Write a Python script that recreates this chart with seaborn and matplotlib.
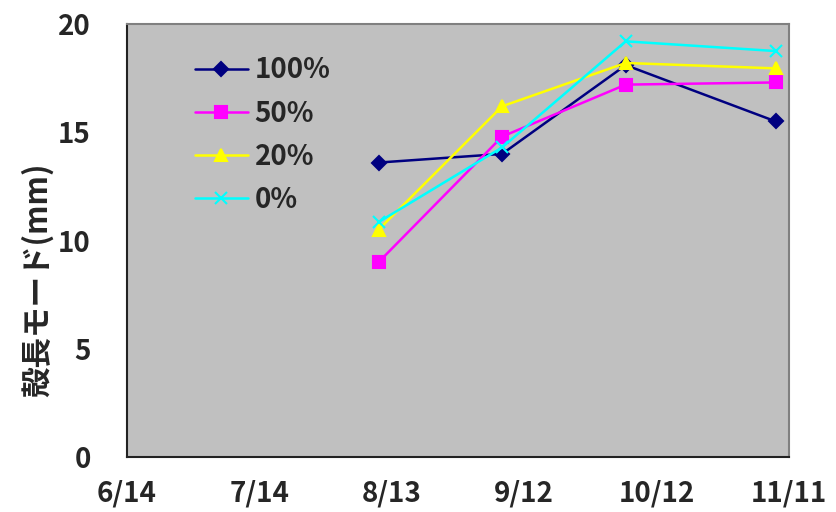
import numpy as np
import pandas as pd
import matplotlib
matplotlib.use("Agg")
import matplotlib.pyplot as plt
import seaborn as sns

# sampling dates and shell-length mode (mm) per treatment
dates = ["2000-08-10", "2000-09-07", "2000-10-05", "2000-11-08"]
series_names = ["100%", "50%", "20%", "0%"]
v100 = [13.6, 14.0, 18.1, 15.5]
v50 = [9.0, 14.8, 17.2, 17.3]
v20 = [10.5, 16.2, 18.2, 17.95]
v0 = [10.85, 14.3, 19.2, 18.75]

tick_dates = ["2000-06-14", "2000-07-14", "2000-08-13", "2000-09-12", "2000-10-12", "2000-11-11"]
tick_labels = ["6/14", "7/14", "8/13", "9/12", "10/12", "11/11"]

colors = ["#000080", "#ff00ff", "#ffff00", "#00ffff"]
markers = ["D", "s", "^", "x"]
msizes = [7, 9, 9, 9]

sns.set_style("white")
plt.rcParams['font.family'] = ['Noto Sans CJK JP', 'DejaVu Sans']
plt.rcParams['font.weight'] = 'bold'

fig = plt.figure(figsize=(8.37, 5.12), dpi=100)
ax = fig.add_axes([127/837, 1-457/512, (789-127)/837, (457-24)/512])
ax.set_facecolor("#c0c0c0")

for name, vals, c, m, ms in zip(series_names, [v100, v50, v20, v0], colors, markers, msizes):
    d = pd.DataFrame({"date": pd.to_datetime(dates), "value": vals})
    sns.lineplot(data=d, x="date", y="value", color=c, marker=m, markersize=ms,
                 markeredgecolor=c, markeredgewidth=1.5, linewidth=1.8,
                 label=name, ax=ax)

ax.set_xlim(pd.Timestamp(tick_dates[0]), pd.Timestamp(tick_dates[-1]))
ax.set_ylim(0, 20)
ax.set_xticks([pd.Timestamp(t) for t in tick_dates])
ax.set_xticklabels(tick_labels, fontsize=20, fontweight='bold')
ax.set_yticks([0, 5, 10, 15, 20])
ax.set_yticklabels(["0", "5", "10", "15", "20"], fontsize=20, fontweight='bold')
ax.tick_params(axis='both', direction='in', length=9, color='#333333')
ax.tick_params(axis='x', pad=16)
ax.tick_params(axis='y', pad=26)
ax.set_xlabel("")
ax.set_ylabel("殻長モード(mm)", fontsize=22, fontweight='bold')
ax.yaxis.set_label_coords(-0.11, 0.41)

for s in ["left", "bottom"]:
    ax.spines[s].set_color("#222222")
    ax.spines[s].set_linewidth(1.5)
for s in ["top", "right"]:
    ax.spines[s].set_color("#808080")
    ax.spines[s].set_linewidth(1.5)

leg = ax.legend(loc="upper left", bbox_to_anchor=(0.065, 0.983), frameon=False,
                fontsize=20, handlelength=1.9, labelspacing=0.55, handletextpad=0.25)
for t in leg.get_texts():
    t.set_fontweight('bold')

fig.savefig("out.png", dpi=100)
